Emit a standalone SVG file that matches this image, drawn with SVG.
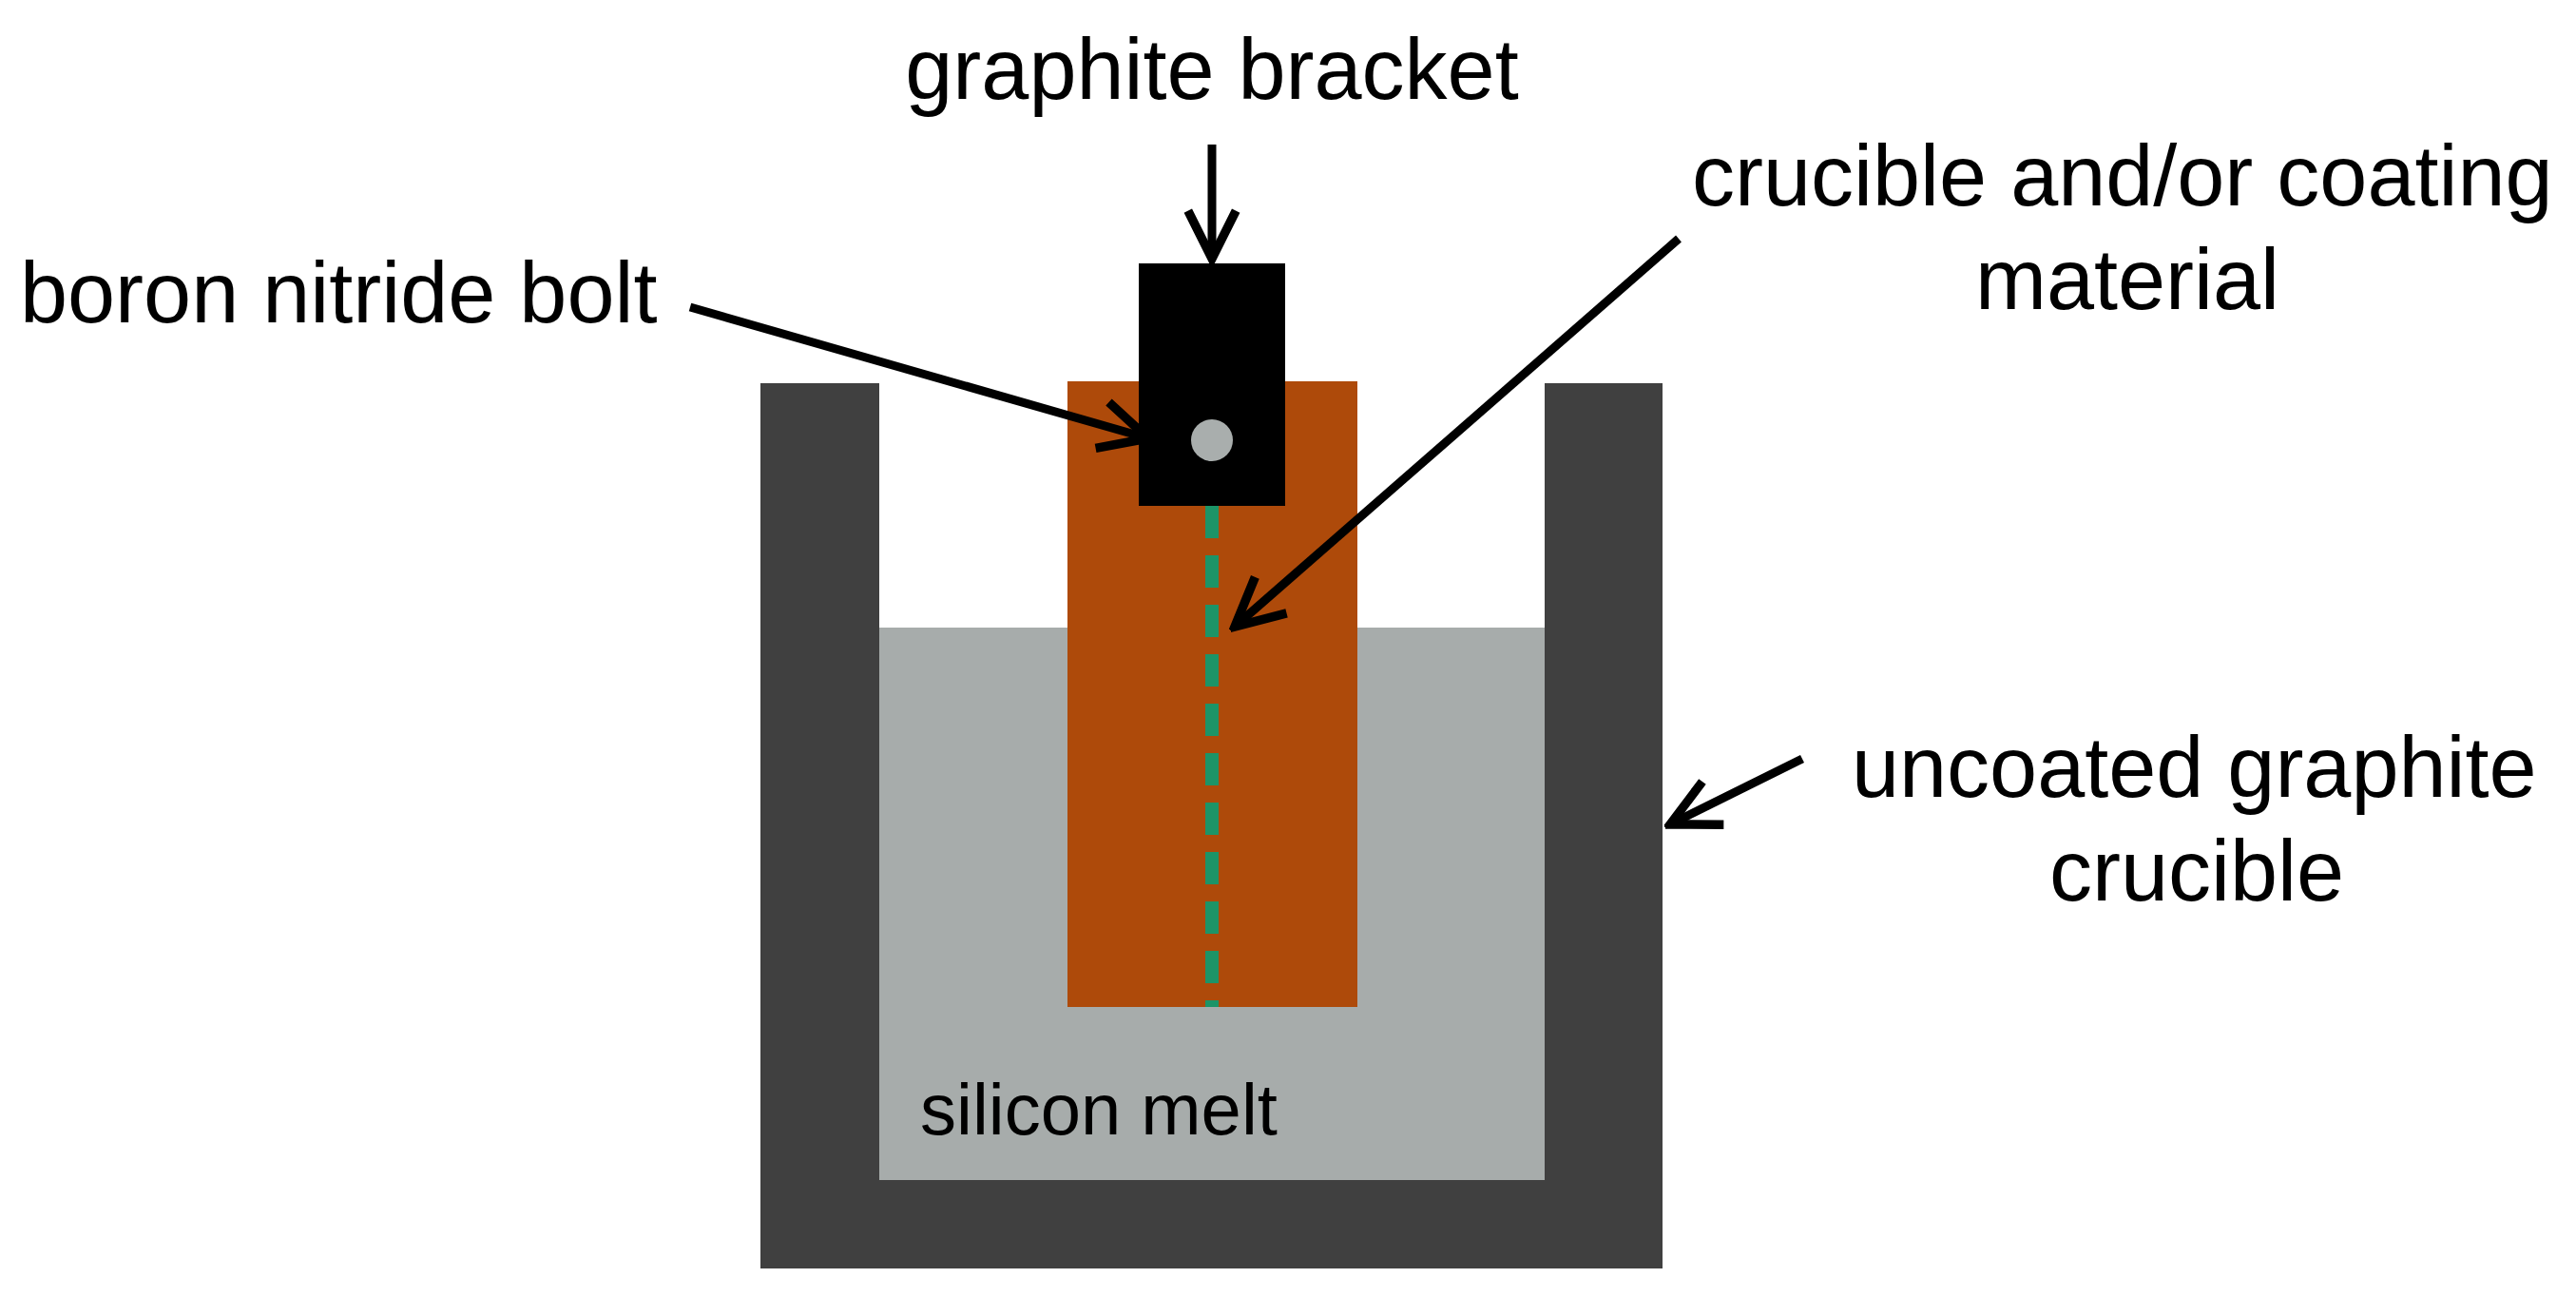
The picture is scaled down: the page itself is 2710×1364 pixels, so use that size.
<svg xmlns="http://www.w3.org/2000/svg" width="2710" height="1364" viewBox="0 0 2710 1364">
<style>
text{font-family:"Liberation Sans",Arial,sans-serif;font-size:90px;fill:#000}
.c{stroke:#000;stroke-width:9;fill:none}
</style>
<defs><marker id="a" viewBox="0 0 10 10" refX="9" refY="5" markerWidth="7" markerHeight="7" orient="auto" markerUnits="strokeWidth"><polyline points="1,1 9,5 1,9" fill="none" stroke="#000" stroke-width="1.5"/></marker></defs>
<rect width="2710" height="1364" fill="#fff"/>
<g id="crucible"><path d="M800,403H925V1241H1625V403H1749V1334H800Z" fill="#404040"/><text x="1948" y="838">uncoated graphite</text><text x="2311" y="947" text-anchor="middle">crucible</text></g>
<g id="melt"><rect x="925" y="660" width="700" height="581" fill="#A7ACAB"/><text x="968" y="1193" style="font-size:76px">silicon melt</text></g>
<g id="sample"><rect x="1123" y="401" width="305" height="658" fill="#AE4A0A"/><line x1="1275" y1="532" x2="1275" y2="1059" stroke="#1C9467" stroke-width="14" stroke-dasharray="34,18"/><text x="1780" y="216">crucible and/or coating</text><text x="2238" y="325" text-anchor="middle">material</text></g>
<g id="bracket"><rect x="1198" y="277" width="154" height="255" fill="#000"/><text x="1275" y="104" text-anchor="middle">graphite bracket</text></g>
<g id="bolt"><circle cx="1275" cy="463" r="22" fill="#A9AEAD"/><text x="21" y="339">boron nitride bolt</text></g>
<g id="connectors">
<line class="c" x1="1275" y1="152" x2="1275" y2="272" marker-end="url(#a)"/>
<line class="c" x1="726" y1="323" x2="1208" y2="461" marker-end="url(#a)"/>
<line class="c" x1="1766" y1="251" x2="1299" y2="659" marker-end="url(#a)"/>
<line class="c" x1="1896" y1="798" x2="1757" y2="867" marker-end="url(#a)"/>
</g>
</svg>
